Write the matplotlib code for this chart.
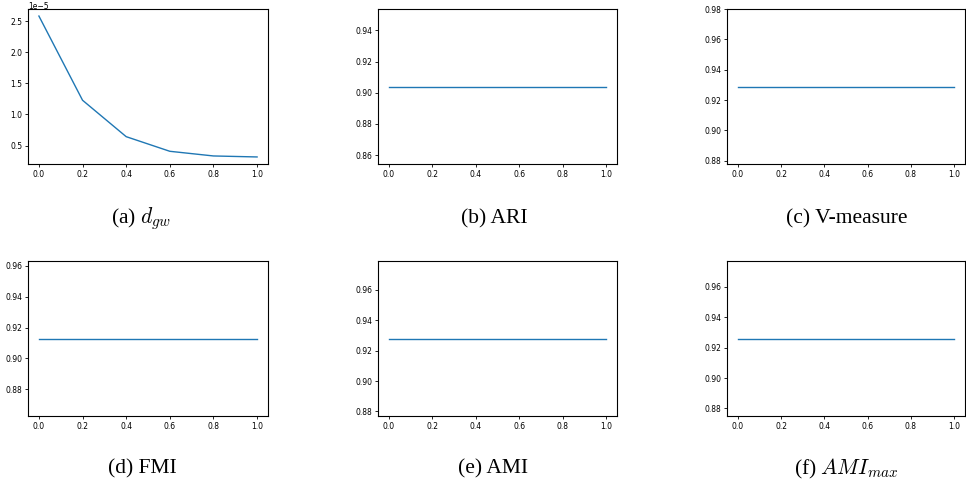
import matplotlib
matplotlib.use("Agg")
import matplotlib.pyplot as plt

plt.rcParams['mathtext.fontset'] = 'cm'

# axe des x commun a tous les panneaux
x_vals = [0.0, 0.2, 0.4, 0.6, 0.8, 1.0]

# valeurs
d_gw = [2.58e-5, 1.227e-5, 0.642e-5, 0.407e-5, 0.332e-5, 0.316e-5]
ari = [0.904] * 6
v_measure = [0.929] * 6
fmi = [0.9129] * 6
ami = [0.928] * 6
ami_max = [0.926] * 6

captions = ['(a) $d_{gw}$', '(b) ARI', '(c) V-measure',
            '(d) FMI', '(e) AMI', '(f) $AMI_{max}$']
series = [d_gw, ari, v_measure, fmi, ami, ami_max]

W, H = 966, 487
fig = plt.figure(figsize=(W / 100, H / 100), dpi=100)

# positions des axes en pixels (gauche, haut, droite, bas)
boxes = [(28, 9, 268, 164), (378, 9, 617, 164), (727, 9, 965, 164),
         (28, 261, 268, 416), (378, 261, 617, 416), (727, 261, 965, 416)]
cap_pos = [(141, 219), (494, 219), (847, 219),
           (142, 469), (493, 469), (846, 469)]

for vals, box, cap, cp in zip(series, boxes, captions, cap_pos):
    l, t, r, b = box
    ax = fig.add_axes([l / W, 1 - b / H, (r - l) / W, (b - t) / H])
    ax.plot(x_vals, vals, color='#1f77b4', linewidth=1.0)
    ax.tick_params(labelsize=5.5, length=2.2, width=0.6, pad=2)
    # le "1e-5" colle au bord haut : on reduit l'ecart
    ax.yaxis.OFFSETTEXTPAD = 0.3
    ax.yaxis.get_offset_text().set_fontsize(5.5)
    for s in ax.spines.values():
        s.set_linewidth(0.8)
    fig.text(cp[0] / W, 1 - cp[1] / H, cap, ha='center', va='center',
             fontsize=15.5, family='Liberation Serif')

fig.savefig('out.png', dpi=100)
